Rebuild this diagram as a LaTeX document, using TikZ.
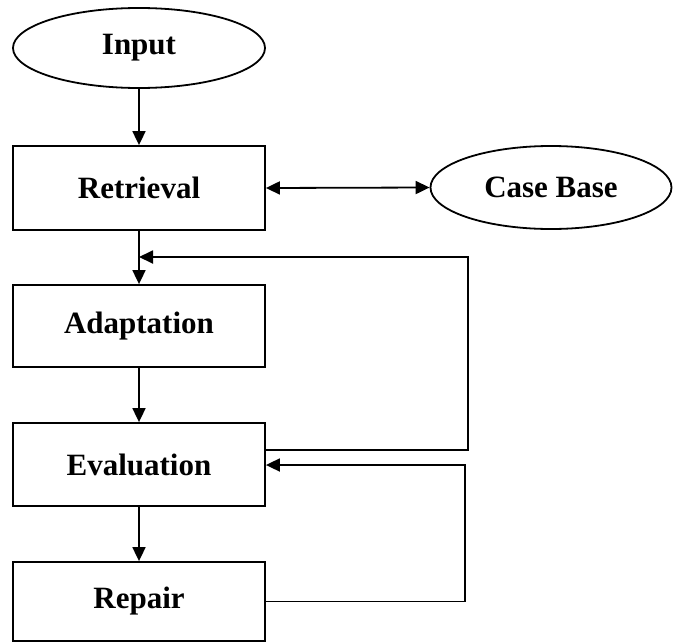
\documentclass[tikz,border=0pt]{standalone}
\usepackage{fontspec}
\setmainfont{Liberation Serif}
\usetikzlibrary{arrows.meta,shapes.geometric}
\begin{document}
\begin{tikzpicture}[x=1pt,y=-1pt,
  line width=1.8pt,
  >={Triangle[length=14pt,width=13pt]},
  every node/.style={font=\fontsize{31}{36}\selectfont\bfseries, inner sep=0pt},
  stepbox/.style={draw, rectangle, minimum width=252pt},
  oval/.style={draw, ellipse}
]
\useasboundingbox (0,0) rectangle (673,643);

% process boxes and data ovals
\node[oval, minimum width=252pt, minimum height=80pt] (input) at (139,48) {Input};
\node[stepbox, minimum height=84pt] (retrieval) at (139,188) {Retrieval};
\node[oval, minimum width=241pt, minimum height=83pt] (casebase) at (551,187.5) {Case Base};
\node[stepbox, minimum height=82pt] (adaptation) at (139,326) {Adaptation};
\node[stepbox, minimum height=83pt] (evaluation) at (139,464.5) {Evaluation};
\node[stepbox, minimum height=79pt] (repair) at (139,601.5) {Repair};

% routing points of the two feedback loops
\coordinate (join) at (139,257);
\coordinate (loopA) at (468,257);
\coordinate (evalOut) at (evaluation.east |- 0,450);
\coordinate (evalIn) at (evaluation.east |- 0,465);
\coordinate (loopB) at (465,465);

% main flow
\draw[->] (input) -- (retrieval);
\draw[<->] (retrieval.east) -- (casebase.west);
\draw[->] (retrieval) -- (adaptation);
\draw[->] (adaptation) -- (evaluation);
\draw[->] (evaluation) -- (repair);

% feedback: evaluation back to adaptation
\draw[->] (evalOut) -| (loopA) -- (join);
% feedback: repair back to evaluation
\draw[->] (repair.east) -| (loopB) -- (evalIn);
\end{tikzpicture}
\end{document}
